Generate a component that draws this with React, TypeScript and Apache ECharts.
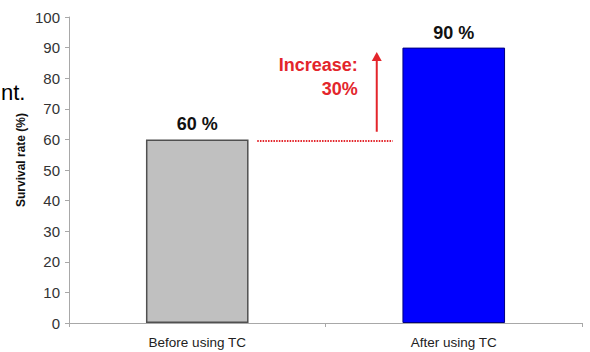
import React, { useEffect, useRef } from "react";
import * as echarts from "echarts";

const categories = ["Before using TC", "After using TC"];
const survivalRates = [60, 90];
const yTicks = { min: 0, max: 100, interval: 10 };
const increaseLabel = ["Increase:", "30%"];
const arrowFrom = 62.5;
const arrowTo = 88.6;

const RED = "#e3252b";
const FONT = "'Liberation Sans', Arial, sans-serif";

export default function App() {
  const ref = useRef<HTMLDivElement>(null);
  useEffect(() => {
    if (!ref.current) return;
    const chart = echarts.init(ref.current, null, { renderer: "svg" });
    chart.setOption({
      animation: false,
      backgroundColor: "#ffffff",
      textStyle: { fontFamily: FONT },
      grid: { left: 69, right: 8, top: 17, bottom: 29, containLabel: false, outerBoundsMode: "none" },
      xAxis: {
        type: "category",
        data: categories,
        boundaryGap: true,
        axisLine: { lineStyle: { color: "#a8a8a8", width: 1 } },
        axisTick: { show: true, alignWithLabel: false, length: 4, lineStyle: { color: "#a8a8a8" } },
        axisLabel: { color: "#222", fontSize: 13.5, margin: 12, fontFamily: FONT },
        splitLine: { show: false },
      },
      yAxis: {
        type: "value",
        min: yTicks.min,
        max: yTicks.max,
        interval: yTicks.interval,
        axisLine: { show: true, lineStyle: { color: "#a8a8a8", width: 1 } },
        axisTick: { show: true, length: 4, lineStyle: { color: "#a8a8a8" } },
        axisLabel: { color: "#333", fontSize: 15, margin: 9, fontFamily: FONT },
        splitLine: { show: false },
      },
      series: [
        {
          type: "bar",
          barWidth: "40%",
          data: survivalRates.map((v, i) => ({
            value: v,
            itemStyle:
              i === 0
                ? { color: "#c0c0c0", borderColor: "#505050", borderWidth: 1.5 }
                : { color: "#0000ff", borderColor: "#000080", borderWidth: 1 },
          })),
          label: {
            show: true,
            position: "top",
            distance: 6,
            formatter: "{c} %",
            fontSize: 18,
            fontWeight: "bold",
            color: "#111",
            fontFamily: FONT,
          },
        },
      ],
    });

    const p0 = chart.convertToPixel({ gridIndex: 0 }, [0, survivalRates[0]]) as number[];
    const p1 = chart.convertToPixel({ gridIndex: 0 }, [1, survivalRates[1]]) as number[];
    const a0 = chart.convertToPixel({ gridIndex: 0 }, [1, arrowFrom]) as number[];
    const a1 = chart.convertToPixel({ gridIndex: 0 }, [1, arrowTo]) as number[];
    const arrowX = p1[0] - 77;
    const headH = 9;

    chart.setOption({
      graphic: [
        {
          type: "line",
          shape: { x1: p0[0] + 60, y1: p0[1] + 1.5, x2: p1[0] - 61, y2: p0[1] + 1.5 },
          style: { stroke: RED, lineWidth: 2, lineDash: [1.5, 1.2] },
        },
        {
          type: "line",
          shape: { x1: arrowX, y1: a0[1], x2: arrowX, y2: a1[1] + headH - 1 },
          style: { stroke: RED, lineWidth: 2 },
        },
        {
          type: "polygon",
          shape: {
            points: [
              [arrowX, a1[1]],
              [arrowX - 5, a1[1] + headH],
              [arrowX + 5, a1[1] + headH],
            ],
          },
          style: { fill: RED },
        },
        {
          type: "text",
          x: p1[0] - 96,
          y: 65,
          style: {
            text: increaseLabel[0],
            fill: RED,
            font: `bold 18px ${FONT}`,
            align: "right",
            verticalAlign: "middle",
          },
        },
        {
          type: "text",
          x: p1[0] - 96,
          y: 89,
          style: {
            text: increaseLabel[1],
            fill: RED,
            font: `bold 18px ${FONT}`,
            align: "right",
            verticalAlign: "middle",
          },
        },
        {
          type: "text",
          x: 21,
          y: 160,
          rotation: Math.PI / 2,
          style: {
            text: "Survival rate (%)",
            fill: "#111",
            font: `bold 12px ${FONT}`,
            align: "center",
            verticalAlign: "middle",
          },
        },
        {
          type: "text",
          x: 1,
          y: 92,
          style: {
            text: "nt.",
            fill: "#000",
            font: `22px ${FONT}`,
            align: "left",
            verticalAlign: "middle",
          },
        },
      ],
    });

    return () => chart.dispose();
  }, []);
  return (
    <div
      ref={ref}
      style={{ position: "fixed", left: 0, top: 0, width: 590, height: 352, background: "#fff" }}
    />
  );
}
